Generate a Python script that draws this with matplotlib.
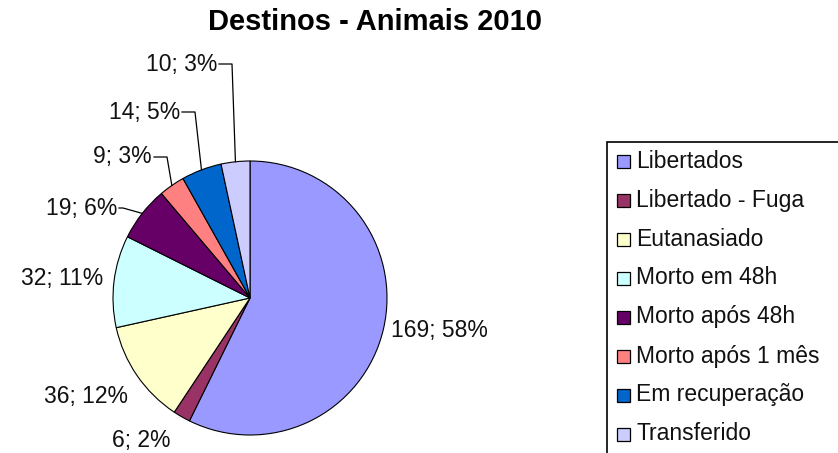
# -*- coding: utf-8 -*-
"""
Destinos - Animais 2010 (grafico de pizza estilo Excel)
"""

import numpy as np
import matplotlib.pyplot as plt
from matplotlib.patches import Rectangle

# dados
categorias = ["Libertados", "Libertado - Fuga", "Eutanasiado", "Morto em 48h",
              "Morto após 48h", "Morto após 1 mês", "Em recuperação", "Transferido"]
valores = [169, 6, 36, 32, 19, 9, 14, 10]
percentuais = [58, 2, 12, 11, 6, 3, 5, 3]
cores = ["#9999FF", "#993366", "#FFFFCC", "#CCFFFF",
         "#660066", "#FF8080", "#0066CC", "#CCCCFF"]

# posicao dos rotulos (em pixels: x, y, alinhamento, linha guia)
rotulos_pos = [(391, 330, "left", False),
               (141, 441, "center", False),
               (128, 396, "right", False),
               (103, 279, "right", False),
               (117, 208, "right", True),
               (152, 157, "right", True),
               (180, 112, "right", True),
               (217, 64, "right", True)]

W, H = 838, 453
plt.rcParams["font.family"] = ["Liberation Sans", "DejaVu Sans"]

fig = plt.figure(figsize=(W / 100, H / 100), dpi=100)
ax = fig.add_axes([0, 0, 1, 1])

# centro e raio da pizza (pixels)
cx, cy, r = 250, H - 298, 137

wedges, _ = ax.pie(valores, colors=cores, startangle=90, counterclock=False,
                   center=(cx, cy), radius=r, frame=True,
                   wedgeprops=dict(edgecolor="black", linewidth=0.8))
ax.set_xlim(0, W)
ax.set_ylim(0, H)
ax.set_aspect("equal")
ax.axis("off")

# rotulos "valor; pct%"
for w, v, p, (x, y, ha, guia) in zip(wedges, valores, percentuais, rotulos_pos):
    ax.text(x, H - y, f"{v}; {p}%", ha=ha, va="center", fontsize=16.5,
            color="#111111")
    if guia:
        ang = np.deg2rad((w.theta1 + w.theta2) / 2)
        ex, ey = cx + r * np.cos(ang), cy + r * np.sin(ang)
        tick = 4 if y > 190 else 13
        xs = [x + 2, x + 2 + tick, ex]
        ys = [H - y, H - y, ey]
        ax.plot(xs, ys, color="black", linewidth=0.9)

# titulo
ax.text(375, H - 22, "Destinos - Animais 2010", ha="center", va="center",
        fontsize=21, fontweight="bold")

# legenda (caixa cortada na borda, como no original)
ax.add_patch(Rectangle((607, -10), 300, H - 142 + 10, facecolor="white",
                       edgecolor="black", linewidth=1.2))
for i, (nome, cor) in enumerate(zip(categorias, cores)):
    yy = H - (161 + 39 * i)
    ax.add_patch(Rectangle((617, yy - 6.5), 13, 13, facecolor=cor,
                           edgecolor="black", linewidth=0.9))
    ax.text(636, yy, nome, ha="left", va="center", fontsize=16.5,
            color="#111111")

fig.savefig("out.png", dpi=100)
